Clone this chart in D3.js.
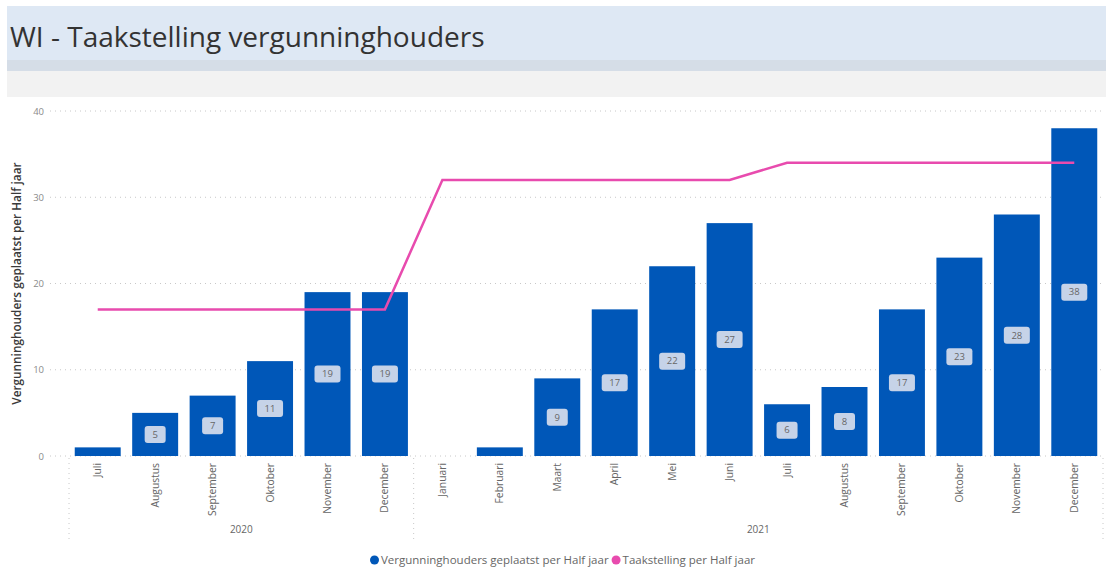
<!DOCTYPE html>
<html>
<head>
<meta charset="utf-8">
<script src="https://cdn.jsdelivr.net/npm/d3@7"></script>
<style>
  body { margin: 0; background: #fff; }
  svg { display: block; font-family: "Open Sans", sans-serif; }
</style>
</head>
<body>
<svg id="chart" width="1106" height="570"></svg>
<script>
// data
const years = ['2020', '2021'];
const months = ['Juli', 'Augustus', 'September', 'Oktober', 'November', 'December',
  'Januari', 'Februari', 'Maart', 'April', 'Mei', 'Juni',
  'Juli', 'Augustus', 'September', 'Oktober', 'November', 'December'];
const monthYear = ['2020', '2020', '2020', '2020', '2020', '2020',
  '2021', '2021', '2021', '2021', '2021', '2021',
  '2021', '2021', '2021', '2021', '2021', '2021'];
const geplaatst = [1, 5, 7, 11, 19, 19, 0, 1, 9, 17, 22, 27, 6, 8, 17, 23, 28, 38];
const taakstelling = [17, 17, 17, 17, 17, 17, 32, 32, 32, 32, 32, 32, 34, 34, 34, 34, 34, 34];
const yTicks = [0, 10, 20, 30, 40];

const seriesNames = ['Vergunninghouders geplaatst per Half jaar', 'Taakstelling per Half jaar'];
const blue = '#0057b8';
const pink = '#e84bae';

const svg = d3.select('#chart');

// header bands
svg.append('rect').attr('x', 7).attr('y', 6).attr('width', 1099).attr('height', 54).attr('fill', '#dee8f4');
svg.append('rect').attr('x', 7).attr('y', 60).attr('width', 1099).attr('height', 11).attr('fill', '#d5dde7');
svg.append('rect').attr('x', 7).attr('y', 71).attr('width', 1099).attr('height', 26).attr('fill', '#f2f2f2');

svg.append('text')
  .attr('x', 10).attr('y', 47)
  .attr('font-size', 28)
  .attr('fill', '#333')
  .text('WI - Taakstelling vergunninghouders');

const idx = d3.range(months.length);

const x = d3.scaleBand()
  .domain(idx)
  .range([69, 1103])
  .paddingInner(0.2)
  .paddingOuter(0.1);

const y = d3.scaleLinear()
  .domain([0, 40])
  .range([456, 111]);

// grid
svg.append('g')
  .selectAll('line')
  .data(yTicks)
  .join('line')
  .attr('x1', 50).attr('x2', 1103)
  .attr('y1', d => y(d)).attr('y2', d => y(d))
  .attr('stroke', '#c8c8c8')
  .attr('stroke-dasharray', '1,4');

// y axis labels
const yAxis = svg.append('g')
  .attr('transform', 'translate(44,0)')
  .call(d3.axisLeft(y).tickValues(yTicks).tickSize(0).tickPadding(0));
yAxis.select('.domain').remove();
yAxis.selectAll('text')
  .attr('font-size', 9.5)
  .attr('fill', '#8a8a8a')
  .attr('font-family', 'Open Sans, sans-serif');

svg.append('text')
  .attr('transform', 'translate(21,' + (y(0) + y(40)) / 2 + ') rotate(-90)')
  .attr('text-anchor', 'middle')
  .attr('font-size', 11.8)
  .attr('font-weight', 600)
  .attr('fill', '#3a3a3a')
  .text('Vergunninghouders geplaatst per Half jaar');

// bars
svg.append('g')
  .selectAll('rect')
  .data(idx)
  .join('rect')
  .attr('x', i => x(i))
  .attr('width', x.bandwidth())
  .attr('y', i => y(geplaatst[i]))
  .attr('height', i => y(0) - y(geplaatst[i]))
  .attr('fill', blue);

// taakstelling line
const line = d3.line()
  .x(i => x(i) + x.bandwidth() / 2)
  .y(i => y(taakstelling[i]));

svg.append('path')
  .datum(idx)
  .attr('d', line)
  .attr('fill', 'none')
  .attr('stroke', pink)
  .attr('stroke-width', 2.5);

// data labels
const labels = svg.append('g')
  .selectAll('g')
  .data(idx.filter(i => geplaatst[i] >= 5))
  .join('g')
  .attr('transform', i => 'translate(' + (x(i) + x.bandwidth() / 2) + ',' + y(geplaatst[i] / 2) + ')');

labels.append('rect')
  .attr('x', i => geplaatst[i] < 10 ? -10.5 : -13)
  .attr('y', -8.5)
  .attr('width', i => geplaatst[i] < 10 ? 21 : 26)
  .attr('height', 17)
  .attr('rx', 3)
  .attr('fill', '#c6d3e8');

labels.append('text')
  .attr('text-anchor', 'middle')
  .attr('dy', '0.35em')
  .attr('font-size', 9.5)
  .attr('fill', '#666')
  .text(i => geplaatst[i]);

// x axis month labels
svg.append('g')
  .selectAll('text')
  .data(idx)
  .join('text')
  .attr('transform', i => 'translate(' + (x(i) + x.bandwidth() / 2 + 3.5) + ',463) rotate(-90)')
  .attr('text-anchor', 'end')
  .attr('font-size', 10.3)
  .attr('fill', '#666')
  .text(i => months[i]);

// year groups
const yearExtent = years.map(yr => {
  const ii = idx.filter(i => monthYear[i] === yr);
  return { yr, x0: x(ii[0]) - x.step() * x.paddingInner() / 2, x1: x(ii[ii.length - 1]) + x.bandwidth() + x.step() * x.paddingInner() / 2 };
});
yearExtent[0].x0 = 69;
yearExtent[yearExtent.length - 1].x1 = 1103;

svg.append('g')
  .selectAll('line')
  .data([69].concat(yearExtent.map(d => d.x1)))
  .join('line')
  .attr('x1', d => d).attr('x2', d => d)
  .attr('y1', 458).attr('y2', 540)
  .attr('stroke', '#c8c8c8')
  .attr('stroke-dasharray', '1,4');

svg.append('g')
  .selectAll('text')
  .data(yearExtent)
  .join('text')
  .attr('x', d => (d.x0 + d.x1) / 2)
  .attr('y', 533)
  .attr('text-anchor', 'middle')
  .attr('font-size', 10)
  .attr('fill', '#666')
  .text(d => d.yr);

// legend
const legend = svg.append('g').attr('transform', 'translate(0,560)');
const legItems = [
  { name: seriesNames[0], color: blue },
  { name: seriesNames[1], color: pink }
];
let lx = 370;
legItems.forEach(item => {
  legend.append('circle').attr('cx', lx + 4.5).attr('cy', 0).attr('r', 4.5).attr('fill', item.color);
  const t = legend.append('text')
    .attr('x', lx + 11).attr('y', 0).attr('dy', '0.35em')
    .attr('font-size', 11.5)
    .attr('fill', '#666')
    .text(item.name);
  lx += 11 + t.node().getComputedTextLength() + 3;
});
</script>
</body>
</html>
